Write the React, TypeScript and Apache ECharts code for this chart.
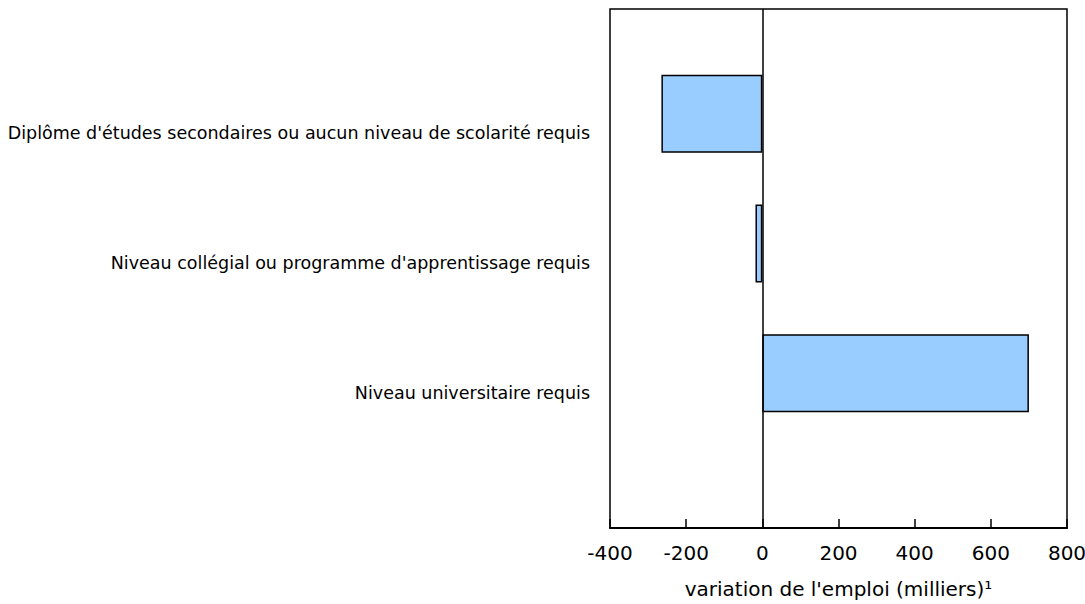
import React, { useEffect, useRef } from "react";
import * as echarts from "echarts";

const categories = [
  "Diplôme d'études secondaires ou aucun niveau de scolarité requis",
  "Niveau collégial ou programme d'apprentissage requis",
  "Niveau universitaire requis",
  "",
];
const values = [-265, -18, 700, null];
const spacer = [null, null, null, null];
const xTicks = { min: -400, max: 800, interval: 200 };
const xTitle = "variation de l'emploi (milliers)¹";

export default function App() {
  const ref = useRef<HTMLDivElement>(null);
  useEffect(() => {
    if (!ref.current) return;
    const chart = echarts.init(ref.current, null, { renderer: "svg" });
    const font = "'DejaVu Sans', Verdana, sans-serif";
    chart.setOption({
      animation: false,
      backgroundColor: "#ffffff",
      grid: {
        left: 610,
        right: 18,
        top: 9,
        bottom: 76,
        show: true,
        borderColor: "#000",
        borderWidth: 1.5,
        backgroundColor: "transparent",
        containLabel: false,
        outerBoundsMode: "none",
      },
      xAxis: {
        type: "value",
        min: xTicks.min,
        max: xTicks.max,
        interval: xTicks.interval,
        name: xTitle,
        nameLocation: "middle",
        nameGap: 51,
        nameTextStyle: { fontFamily: font, fontSize: 20, color: "#000" },
        axisLine: { show: true, onZero: false, lineStyle: { color: "#000", width: 2 } },
        axisTick: { show: true, inside: true, length: 9, lineStyle: { color: "#000", width: 1.5 } },
        axisLabel: { fontFamily: font, fontSize: 20, color: "#000", margin: 15, hideOverlap: false },
        splitLine: { show: false },
      },
      yAxis: {
        type: "category",
        data: categories,
        inverse: true,
        axisLine: { show: false, onZero: false },
        axisTick: { show: false },
        axisLabel: {
          interval: 0,
          hideOverlap: false,
          color: "#000",
          margin: 20,
          formatter: (v: string) => `{gap| }\n{t|${v}}`,
          rich: {
            gap: { height: 119, lineHeight: 119, fontSize: 1 },
            t: { fontFamily: font, fontSize: 17.5, color: "#000", lineHeight: 22 },
          },
        },
        splitLine: { show: false },
      },
      series: [
        {
          type: "bar",
          data: spacer,
          barWidth: 78,
          barGap: "2%",
          silent: true,
        },
        {
          type: "bar",
          data: values,
          barWidth: 78,
          barGap: "2%",
          itemStyle: { color: "#99ccff", borderColor: "#000", borderWidth: 1.5 },
          markLine: {
            silent: true,
            symbol: "none",
            label: { show: false },
            lineStyle: { color: "#000", width: 1.5, type: "solid" },
            data: [{ xAxis: 0 }],
          },
        },
      ],
    });
    return () => chart.dispose();
  }, []);
  return (
    <div
      ref={ref}
      style={{ position: "fixed", left: 0, top: 0, width: 1085, height: 604 }}
    />
  );
}
